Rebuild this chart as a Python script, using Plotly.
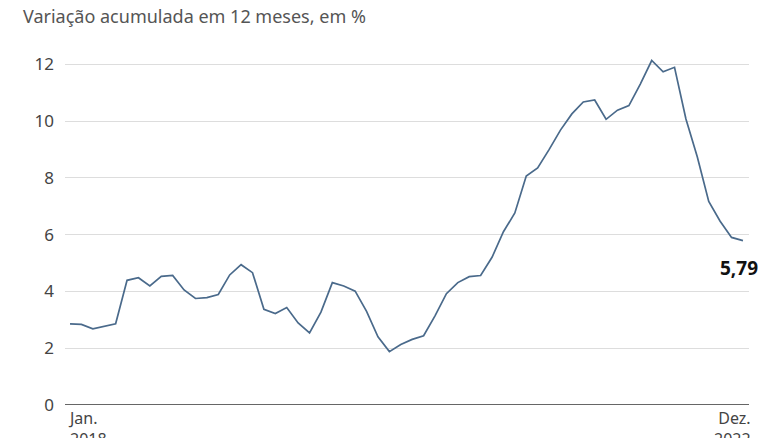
import plotly.graph_objects as go

months = [f"{y}-{m:02d}" for y in range(2018, 2023) for m in range(1, 13)]
values = [2.86, 2.84, 2.68, 2.76, 2.86, 4.39, 4.48, 4.19, 4.53, 4.56, 4.05, 3.75,
          3.78, 3.89, 4.58, 4.94, 4.66, 3.37, 3.22, 3.43, 2.89, 2.54, 3.27, 4.31,
          4.19, 4.01, 3.30, 2.40, 1.88, 2.13, 2.31, 2.44, 3.14, 3.92, 4.31, 4.52,
          4.56, 5.20, 6.10, 6.76, 8.06, 8.35, 8.99, 9.68, 10.25, 10.67, 10.74, 10.06,
          10.38, 10.54, 11.30, 12.13, 11.73, 11.89, 10.07, 8.73, 7.17, 6.47, 5.90, 5.79]
y_ticks = [0, 2, 4, 6, 8, 10, 12]
x_labels = ["Jan.<br>2018", "Dez.<br>2022"]
last_label = "5,79"

FONT = "Noto Sans"
idx = list(range(len(values)))

fig = go.Figure()
fig.add_trace(go.Scatter(x=idx, y=values, mode="lines",
                         line=dict(color="#4a6a8b", width=1.7),
                         hoverinfo="skip", showlegend=False))

fig.update_layout(
    width=778, height=438,
    margin=dict(l=65, r=29, t=50, b=33),
    paper_bgcolor="white", plot_bgcolor="white",
    font=dict(family=FONT, color="#444"),
    title=dict(text="Variação acumulada em 12 meses, em %",
               xref="container", yref="container",
               x=23/778, y=1 - 10/438, xanchor="left", yanchor="top",
               font=dict(family=FONT, size=18, color="#555")),
    xaxis=dict(range=[-0.44, 59.53], showgrid=False, zeroline=False,
               showticklabels=False, ticks="", fixedrange=True, automargin=False),
    yaxis=dict(range=[0, 12.5], tickvals=y_ticks, showgrid=True,
               gridcolor="#dddddd", gridwidth=1, zeroline=False,
               ticks="", ticklabelstandoff=10, automargin=False, fixedrange=True,
               tickfont=dict(family=FONT, size=17, color="#444")),
)

fig.add_shape(type="line", xref="paper", yref="y", x0=0, x1=1, y0=0, y1=0,
              line=dict(color="#666", width=2))

fig.add_annotation(x=0, y=0, xref="x", yref="y", text=x_labels[0],
                   showarrow=False, xanchor="left", yanchor="top",
                   xshift=-4, yshift=0, align="left",
                   font=dict(family=FONT, size=16, color="#444"))
fig.add_annotation(x=len(values) - 1, y=0, xref="x", yref="y", text=x_labels[1],
                   showarrow=False, xanchor="right", yanchor="top",
                   xshift=10, yshift=0, align="right",
                   font=dict(family=FONT, size=16, color="#444"))
fig.add_annotation(x=len(values) - 1, y=values[-1], xref="x", yref="y",
                   text=f"<b>{last_label}</b>", showarrow=False,
                   xanchor="center", yanchor="middle", xshift=-4, yshift=-27,
                   font=dict(family=FONT, size=19, color="#111"))

fig.write_html("out.html", config={"displayModeBar": False},
               post_script="document.body.style.margin='0';document.body.style.overflow='hidden';")
